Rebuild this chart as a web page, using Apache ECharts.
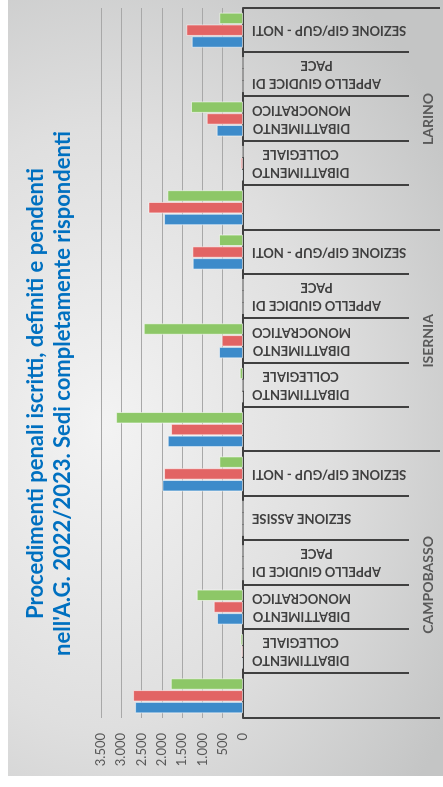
<!DOCTYPE html>
<html>
<head>
<meta charset="utf-8">
<script src="https://cdn.jsdelivr.net/npm/echarts/dist/echarts.min.js"></script>
<style>
  html, body { margin: 0; padding: 0; background: #ffffff; width: 443px; height: 787px; overflow: hidden; }
  #bg { position: absolute; left: 8px; top: 0; width: 435px; height: 776px;
        background: radial-gradient(ellipse 95% 70% at 22% 55%, #f3f3f3 0%, #dfdfdf 55%, #c4c5c5 100%); }
  #chart { position: absolute; left: 0; top: 0; width: 787px; height: 443px;
           transform-origin: 0 0; transform: translateY(787px) rotate(-90deg); }
</style>
</head>
<body>
<div id="bg"></div>
<div id="chart"></div>
<script>
// Categories (left to right in the unrotated chart = bottom to top in the picture)
const categories = [
  '', 'DIBATTIMENTO\nCOLLEGIALE', 'DIBATTIMENTO\nMONOCRATICO', 'APPELLO GIUDICE DI\nPACE', 'SEZIONE ASSISE', 'SEZIONE GIP/GUP - NOTI',
  '', 'DIBATTIMENTO\nCOLLEGIALE', 'DIBATTIMENTO\nMONOCRATICO', 'APPELLO GIUDICE DI\nPACE', 'SEZIONE GIP/GUP - NOTI',
  '', 'DIBATTIMENTO\nCOLLEGIALE', 'DIBATTIMENTO\nMONOCRATICO', 'APPELLO GIUDICE DI\nPACE', 'SEZIONE GIP/GUP - NOTI'
];
const groupNames = ['CAMPOBASSO', 'ISERNIA', 'LARINO'];
const groupCenters = [3, 8.5, 13.5];
const groupBounds = [0, 6, 11, 16];

const seriesBlue  = [2660, 30, 640, 0, 0, 1987, 1855, 20, 591, 0, 1240, 1946, 30, 649, 0, 1264];
const seriesRed   = [2709, 40, 722, 0, 0, 1946, 1773, 5, 525, 0, 1248, 2332, 55, 895, 0, 1397];
const seriesGreen = [1780, 60, 1141, 0, 0, 583, 3128, 80, 2447, 0, 591, 1864, 5, 1281, 0, 584];

const valueTicks = [0, 500, 1000, 1500, 2000, 2500, 3000, 3500];

const titleText = "Procedimenti penali iscritti, definiti e pendenti\nnell'A.G. 2022/2023. Sedi completamente rispondenti";

const FONT = 'Lato, "Open Sans", sans-serif';
const dark = '#404040';

const chart = echarts.init(document.getElementById('chart'), null, { renderer: 'canvas', width: 787, height: 443 });

function fmtNum(v) { return String(v).replace(/\B(?=(\d{3})+(?!\d))/g, '.'); }

const barStyle = (c) => ({ color: c, borderColor: 'rgba(255,255,255,0.55)', borderWidth: 1 });

chart.setOption({
  animation: false,
  title: {
    text: titleText,
    left: 'center',
    top: 17,
    textStyle: { fontFamily: FONT, fontSize: 22, fontWeight: 'bold', color: '#0070c0', lineHeight: 27 }
  },
  grid: { left: 69, right: 8, top: 101, bottom: 200, containLabel: false },
  xAxis: [
    {
      type: 'category',
      data: categories,
      position: 'bottom',
      boundaryGap: true,
      axisLine: { show: true, lineStyle: { color: dark, width: 2 } },
      axisTick: { show: true, alignWithLabel: false, interval: 0, length: 166, lineStyle: { color: dark, width: 2 } },
      axisLabel: {
        interval: 0,
        rotate: 90,
        margin: 9,
        formatter: function (v) {
          if (!v) return '';
          return v.split('\n').map(s => '{c|' + s + '}').join('\n');
        },
        rich: { c: { align: 'center', fontFamily: FONT, fontSize: 13, fontWeight: 'bold', color: dark, lineHeight: 18 } }
      },
      splitLine: { show: false }
    },
    {
      type: 'value',
      min: 0,
      max: 16,
      position: 'bottom',
      axisLine: { show: false },
      splitLine: { show: false },
      axisTick: { show: true, customValues: groupBounds, length: 197, lineStyle: { color: dark, width: 2 } },
      axisLabel: {
        customValues: groupCenters,
        margin: 178,
        formatter: function (v) { const i = groupCenters.indexOf(v); return i >= 0 ? groupNames[i] : ''; },
        fontFamily: FONT, fontSize: 14, fontWeight: 'bold', color: '#595959'
      }
    }
  ],
  yAxis: {
    type: 'value',
    min: 0,
    max: 3500,
    interval: 500,
    axisLine: { show: false },
    axisTick: { show: false },
    splitLine: { show: true, lineStyle: { color: '#a8a8a8', width: 1 } },
    axisLabel: { margin: 15, fontFamily: FONT, fontSize: 13, color: '#595959', formatter: fmtNum }
  },
  series: [
    { type: 'bar', name: 'blue', data: seriesBlue, xAxisIndex: 0, barCategoryGap: '21%', barGap: '3%', itemStyle: barStyle('#3d8bca') },
    { type: 'bar', name: 'red', data: seriesRed, xAxisIndex: 0, barCategoryGap: '21%', barGap: '3%', itemStyle: barStyle('#e26464') },
    { type: 'bar', name: 'green', data: seriesGreen, xAxisIndex: 0, barCategoryGap: '21%', barGap: '3%', itemStyle: barStyle('#8dc767') }
  ]
});
</script>
</body>
</html>
